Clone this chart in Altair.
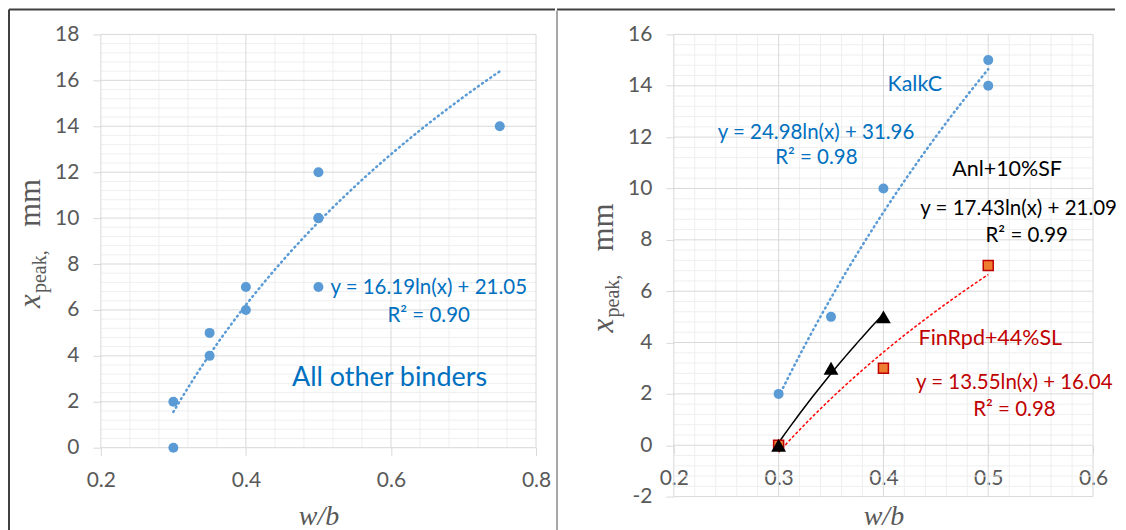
import altair as alt
import numpy as np
import pandas as pd

# ---------------- data ----------------
# Left panel: "All other binders"
left_wb = [0.3, 0.3, 0.35, 0.35, 0.4, 0.4, 0.5, 0.5, 0.5, 0.5, 0.75]
left_xpeak = [0, 2, 4, 5, 6, 7, 7, 10, 10, 12, 14]
left_fit = [16.19, 21.05]          # y = a*ln(x) + b (Excel trendline shown on chart)
left_fit_range = [0.3, 0.75]

# Right panel
kalk_wb = [0.3, 0.35, 0.4, 0.5, 0.5]
kalk_xpeak = [2, 5, 10, 14, 15]
anl_wb = [0.3, 0.35, 0.4]
anl_xpeak = [0, 3, 5]
fin_wb = [0.3, 0.4, 0.5]
fin_xpeak = [0, 3, 7]

left_x_ticks = [0.2, 0.4, 0.6, 0.8]
left_y_ticks = [0, 2, 4, 6, 8, 10, 12, 14, 16, 18]
right_x_ticks = [0.2, 0.3, 0.4, 0.5, 0.6]
right_y_ticks = [-2, 0, 2, 4, 6, 8, 10, 12, 14, 16]

left_texts = ["y = 16.19ln(x) + 21.05", "R\u00b2 = 0.90", "All other binders"]
right_texts = ["KalkC", "y = 24.98ln(x) + 31.96", "R\u00b2 = 0.98",
               "Anl+10%SF", "y = 17.43ln(x) + 21.09", "R\u00b2 = 0.99",
               "FinRpd+44%SL", "y = 13.55ln(x) + 16.04", "R\u00b2 = 0.98"]


def minor(lo, hi, step, majors):
    vals = np.round(np.arange(lo, hi + step / 2, step), 4)
    return [float(v) for v in vals if not any(abs(v - m) < 1e-6 for m in majors)]


# ---------------- style ----------------
BLUE_M = "#5B9BD5"
BLUE_T = "#0070C0"
RED_T = "#C00000"
GRAY = "#595959"
MAJ = "#D9D9D9"
MIN = "#EFEFEF"
FRAME = "#404040"
SANS = "Lato"
SERIF = "Liberation Serif"

LW, LH = 436, 414
RW, RH = 420, 463
ONE = alt.Data(values=[{}])


def axis_x(values, offset=0, label_pad=14, title_pad=12):
    return alt.Axis(values=values, format=".1f", grid=False, domain=False,
                    tickColor=MAJ, tickSize=8, labelPadding=label_pad,
                    labelFont=SANS, labelFontSize=21, labelColor=GRAY,
                    labelFlush=False, labelOverlap=False,
                    title="w/b", titleFont=SERIF, titleFontStyle="italic",
                    titleFontWeight="normal", titleFontSize=28, titleColor=GRAY,
                    titlePadding=title_pad, offset=offset)


def axis_y(values):
    return alt.Axis(values=values, format="d", labelExpr="'' + datum.value",
                    grid=False, domain=False,
                    tickColor=MAJ, tickSize=8, labelPadding=14,
                    labelFont=SANS, labelFontSize=21, labelColor=GRAY,
                    labelFlush=False, labelOverlap=False, title=None)


def grid(X, Y, xmaj, xmin, ymaj, ymin):
    out = []
    for vals, ch, col in [(xmin, "x", MIN), (ymin, "y", MIN),
                          (xmaj, "x", MAJ), (ymaj, "y", MAJ)]:
        df = pd.DataFrame({ch: vals})
        enc = {"x": X} if ch == "x" else {"y": Y}
        out.append(alt.Chart(df).mark_rule(color=col, strokeWidth=1).encode(**enc))
    return out


def label(text, x, y, color, size=20.5):
    return alt.Chart(ONE).mark_text(text=text, font=SANS, fontSize=size, color=color,
                                    align="center", baseline="middle").encode(
        x=alt.datum(x), y=alt.datum(y))


def ytitle(center):
    return [
        alt.Chart(ONE).mark_text(text="x", angle=270, align="left", baseline="alphabetic",
                                 font=SERIF, fontStyle="italic", fontSize=31, color=GRAY
                                 ).encode(x=alt.value(-61), y=alt.value(center + 67)),
        alt.Chart(ONE).mark_text(text="peak,", angle=270, align="left", baseline="alphabetic",
                                 font=SERIF, fontSize=20, color=GRAY
                                 ).encode(x=alt.value(-55), y=alt.value(center + 52)),
        alt.Chart(ONE).mark_text(text="mm", angle=270, align="left", baseline="alphabetic",
                                 font=SERIF, fontSize=31, color=GRAY
                                 ).encode(x=alt.value(-61), y=alt.value(center - 14)),
    ]


# ---------------- left panel ----------------
XL = alt.X("x:Q", scale=alt.Scale(domain=[0.2, 0.8], nice=False, zero=False), axis=axis_x(left_x_ticks))
YL = alt.Y("y:Q", scale=alt.Scale(domain=[0, 18], nice=False), axis=axis_y(left_y_ticks))

left_grid = grid(XL, YL, left_x_ticks, minor(0.2, 0.8, 0.04, left_x_ticks),
                 left_y_ticks, minor(0, 18, 0.4, left_y_ticks))

left_trend = alt.Chart(alt.sequence(left_fit_range[0], left_fit_range[1] + 0.001, 0.005, as_="x")
                       ).transform_calculate(
    y=f"{left_fit[0]} * log(datum.x) + {left_fit[1]}"
).mark_line(color=BLUE_M, strokeDash=[1, 4], strokeWidth=2.5, strokeCap="round").encode(x=XL, y=YL)

left_pts = alt.Chart(pd.DataFrame({"x": left_wb, "y": left_xpeak})).mark_point(
    shape="circle", filled=True, size=100, color=BLUE_M, opacity=1).encode(x=XL, y=YL)

left_frame = [
    alt.Chart(ONE).mark_rule(color=FRAME, strokeWidth=2).encode(
        x=alt.value(-92), x2=alt.value(455), y=alt.value(-25)),
    alt.Chart(ONE).mark_rule(color=FRAME, strokeWidth=2).encode(
        x=alt.value(-92), y=alt.value(-25), y2=alt.value(500)),
]

left = alt.layer(
    *left_grid, left_trend, left_pts,
    label(left_texts[0], 0.652, 6.96, BLUE_T),
    label(left_texts[1], 0.652, 5.74, BLUE_T),
    label(left_texts[2], 0.598, 3.04, BLUE_T, 27),
    *left_frame, *ytitle(LH / 2),
).properties(width=LW, height=LH)

# ---------------- right panel ----------------
y0_offset = -RH * 2 / 18  # Excel axis crosses at y = 0
XR = alt.X("x:Q", scale=alt.Scale(domain=[0.2, 0.6], nice=False, zero=False),
           axis=axis_x(right_x_ticks, offset=y0_offset, title_pad=14))
YR = alt.Y("y:Q", scale=alt.Scale(domain=[-2, 16], nice=False), axis=axis_y(right_y_ticks))

right_grid = grid(XR, YR, right_x_ticks, minor(0.2, 0.6, 0.02, right_x_ticks),
                  right_y_ticks, minor(-2, 16, 0.4, right_y_ticks))

kalk_df = pd.DataFrame({"x": kalk_wb, "y": kalk_xpeak})
anl_df = pd.DataFrame({"x": anl_wb, "y": anl_xpeak})
fin_df = pd.DataFrame({"x": fin_wb, "y": fin_xpeak})

kalk_trend = alt.Chart(kalk_df).transform_regression("x", "y", method="log").mark_line(
    color=BLUE_M, strokeDash=[1, 4], strokeWidth=2.5, strokeCap="round").encode(x=XR, y=YR)
anl_trend = alt.Chart(anl_df).transform_regression("x", "y", method="log").mark_line(
    color="black", strokeWidth=1.5).encode(x=XR, y=YR)
fin_trend = alt.Chart(fin_df).transform_regression("x", "y", method="log").mark_line(
    color="#FF0000", strokeDash=[3, 2], strokeWidth=1.5).encode(x=XR, y=YR)

kalk_pts = alt.Chart(kalk_df).mark_point(shape="circle", filled=True, size=100,
                                         color=BLUE_M, opacity=1).encode(x=XR, y=YR)
fin_pts = alt.Chart(fin_df).mark_point(shape="square", filled=True, size=100, fill="#ED7D31",
                                       stroke=RED_T, strokeWidth=1.5, opacity=1).encode(x=XR, y=YR)
anl_pts = alt.Chart(anl_df).mark_point(shape="triangle-up", filled=True, size=220,
                                       color="black", opacity=1).encode(x=XR, y=YR)

right_frame = [
    alt.Chart(ONE).mark_rule(color=FRAME, strokeWidth=2).encode(
        x=alt.value(-117), x2=alt.value(442), y=alt.value(-25)),
    alt.Chart(ONE).mark_rule(color="#A6A6A6", strokeWidth=2).encode(
        x=alt.value(-117), y=alt.value(-24), y2=alt.value(500)),
]

right = alt.layer(
    *right_grid, kalk_trend, fin_trend, anl_trend, kalk_pts, fin_pts, anl_pts,
    label(right_texts[0], 0.430, 14.03, BLUE_T, 21.5),
    label(right_texts[1], 0.3357, 12.17, BLUE_T),
    label(right_texts[2], 0.336, 11.2, BLUE_T),
    label(right_texts[3], 0.518, 10.71, "black", 21.5),
    label(right_texts[4], 0.529, 9.2, "black"),
    label(right_texts[5], 0.5367, 8.15, "black"),
    label(right_texts[6], 0.502, 4.14, RED_T, 21.5),
    label(right_texts[7], 0.5248, 2.43, RED_T),
    label(right_texts[8], 0.525, 1.38, RED_T),
    *right_frame, *ytitle(RH / 2),
).properties(width=RW, height=RH)

chart = alt.hconcat(left, right, spacing=0).properties(padding=0).configure_view(stroke=None)

chart.save("out.html", embed_options={"renderer": "svg", "actions": False})
